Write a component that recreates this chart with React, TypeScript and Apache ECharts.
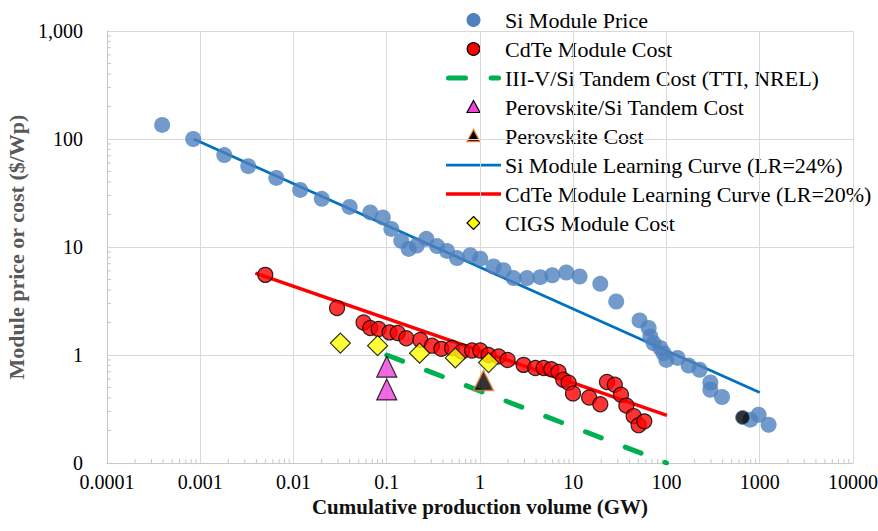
import React, { useEffect, useRef } from 'react';
import * as echarts from 'echarts';

// Axis tick labels (indexed by decade)
const xTickLabels = ['0.0001', '0.001', '0.01', '0.1', '1', '10', '100', '1000', '10000'];
const yTickLabels = ['0', '1', '10', '100', '1,000'];
const minorSteps = [2, 3, 4, 5, 6, 7, 8, 9];
const xDecades = [0.0001, 0.001, 0.01, 0.1, 1, 10, 100, 1000];
const yDecades = [0.1, 1, 10, 100];

// Series data: [cumulative production (GW), $/Wp]
const siModulePrice = [
  [0.00039, 135], [0.00084, 100], [0.00181, 71], [0.00327, 56], [0.00654, 43.6],
  [0.0118, 33.8], [0.0201, 27.9], [0.04, 23.5], [0.0666, 20.9], [0.0907, 18.8],
  [0.112, 14.7], [0.143, 11.4], [0.172, 9.6], [0.21, 10.3], [0.266, 11.9], [0.346, 10.2],
  [0.443, 9.2], [0.567, 7.9], [0.787, 8.4], [1.007, 7.8], [1.4, 6.6], [1.79, 6.1],
  [2.29, 5.15], [3.19, 5.15], [4.43, 5.26], [5.96, 5.47], [8.42, 5.8], [11.7, 5.33],
  [19.5, 4.56], [28.9, 3.13], [51.4, 2.09], [64.3, 1.78], [67, 1.48], [72.7, 1.29],
  [85.8, 1.16], [93.1, 1.04], [99.5, 0.9], [131.5, 0.94], [172.6, 0.8], [226.5, 0.73],
  [295, 0.557], [295, 0.477], [394, 0.408], [792, 0.252], [972, 0.28], [1244, 0.226],
];
const siHighlight = [[655, 0.264]];
const cdteModuleCost = [
  [0.00498, 5.52], [0.0293, 2.72], [0.0564, 2.0], [0.0666, 1.78], [0.0818, 1.74],
  [0.107, 1.62], [0.131, 1.6], [0.162, 1.43], [0.229, 1.38], [0.306, 1.22],
  [0.385, 1.14], [0.501, 1.16], [0.641, 1.08], [0.821, 1.1], [1.007, 1.1],
  [1.236, 1.0], [1.583, 0.97], [1.977, 0.9], [2.935, 0.81], [3.92, 0.757],
  [4.81, 0.757], [5.82, 0.738], [6.96, 0.696], [7.82, 0.59], [8.92, 0.553],
  [9.94, 0.441], [14.8, 0.404], [19.5, 0.35], [23.0, 0.563], [27.9, 0.53],
  [32.5, 0.4285], [37.1, 0.34], [44.4, 0.272], [50.2, 0.224], [57.8, 0.243],
];
const tandemIIIVSi = [[0.1, 1.0], [100, 0.1]];
const perovskiteSiTandem = [[0.1, 0.78], [0.1, 0.48]];
const perovskiteCost = [[1.09, 0.58]];
const siLearningCurve = [[0.00085, 100], [1000, 0.45]];
const cdteLearningCurve = [[0.0039, 5.73], [101, 0.276]];
const cigsModuleCost = [[0.0318, 1.29], [0.0798, 1.22], [0.225, 1.04], [0.5435, 0.94], [1.236, 0.85]];

const names = [
  'Si Module Price',
  'CdTe Module Cost',
  'III-V/Si Tandem Cost (TTI, NREL)',
  'Perovskite/Si Tandem Cost',
  'Perovskite Cost',
  'Si Module Learning Curve (LR=24%)',
  'CdTe Module Learning Curve (LR=20%)',
  'CIGS Module Cost',
];

const FONT = 'Liberation Serif';
const SI_BLUE = '#4F81BD';
const GREEN = '#00B050';
const MAGENTA = '#EE44DD';
const ORANGE = '#ED7D31';
const DASH = [17, 25.6];

function legendGraphics() {
  const left = 446;
  const iconW = 55;
  const cx = left + iconW / 2;
  const els: any[] = [];
  names.forEach((name, i) => {
    const cy = 20 + i * 29;
    let icon: any;
    switch (i) {
      case 0:
        icon = { type: 'circle', shape: { cx, cy, r: 7 }, style: { fill: SI_BLUE } };
        break;
      case 1:
        icon = { type: 'circle', shape: { cx, cy, r: 6.3 }, style: { fill: '#FF0000', stroke: '#000', lineWidth: 1.2 } };
        break;
      case 2:
        icon = {
          type: 'line',
          shape: { x1: left + 2.5, y1: cy, x2: left + iconW - 2.5, y2: cy },
          style: { stroke: GREEN, lineWidth: 5, lineDash: DASH, lineCap: 'round' },
        };
        break;
      case 3:
        icon = {
          type: 'polygon',
          shape: { points: [[cx, cy - 6.5], [cx + 6.5, cy + 5.5], [cx - 6.5, cy + 5.5]] },
          style: { fill: MAGENTA, stroke: '#000', lineWidth: 1.2 },
        };
        break;
      case 4:
        icon = {
          type: 'polygon',
          shape: { points: [[cx, cy - 6.5], [cx + 6.5, cy + 5.5], [cx - 6.5, cy + 5.5]] },
          style: { fill: '#000', stroke: ORANGE, lineWidth: 1.3 },
        };
        break;
      case 5:
        icon = { type: 'line', shape: { x1: left, y1: cy, x2: left + iconW, y2: cy }, style: { stroke: '#0070C0', lineWidth: 2.75 } };
        break;
      case 6:
        icon = { type: 'line', shape: { x1: left, y1: cy, x2: left + iconW, y2: cy }, style: { stroke: '#FF0000', lineWidth: 3.5 } };
        break;
      default:
        icon = {
          type: 'polygon',
          shape: { points: [[cx, cy - 6.5], [cx + 6.5, cy], [cx, cy + 6.5], [cx - 6.5, cy]] },
          style: { fill: '#FFFF00', stroke: '#000', lineWidth: 1.2 },
        };
    }
    els.push(icon);
    els.push({
      type: 'text',
      x: left + iconW + 4,
      y: cy,
      style: {
        text: name,
        fontFamily: FONT,
        fontSize: 22,
        fill: '#000',
        verticalAlign: 'middle',
        align: 'left',
      },
    });
  });
  return els;
}

export default function App() {
  const ref = useRef<HTMLDivElement>(null);
  useEffect(() => {
    if (!ref.current) return;
    const chart = echarts.init(ref.current, null, { renderer: 'svg' });

    const xMinor: number[][] = [];
    xDecades.forEach((d) => minorSteps.forEach((m) => xMinor.push([d * m, 0.1])));
    const yMinor: number[][] = [];
    yDecades.forEach((d) => minorSteps.forEach((m) => yMinor.push([0.0001, d * m])));

    const tickColor = '#C8C8C8';

    chart.setOption({
      animation: false,
      backgroundColor: '#fff',
      grid: { left: 107, right: 25, top: 31, bottom: 68, containLabel: false, outerBoundsMode: 'none' },
      graphic: legendGraphics(),
      xAxis: {
        type: 'log',
        logBase: 10,
        min: 0.0001,
        max: 10000,
        splitNumber: 8,
        name: 'Cumulative production volume (GW)',
        nameLocation: 'middle',
        nameGap: 28,
        nameTextStyle: { fontFamily: FONT, fontSize: 21, fontWeight: 'bold', color: '#111' },
        axisLine: { show: true, lineStyle: { color: tickColor, width: 1 } },
        axisTick: { show: false },
        minorTick: { show: false },
        splitLine: { show: true, lineStyle: { color: '#D9D9D9', width: 1 } },
        axisLabel: {
          margin: 9,
          fontFamily: FONT,
          fontSize: 20,
          color: '#000',
          formatter: (v: number) => xTickLabels[Math.round(Math.log10(v)) + 4] ?? '',
        },
      },
      yAxis: {
        type: 'log',
        logBase: 10,
        min: 0.1,
        max: 1000,
        splitNumber: 4,
        name: 'Module price or cost ($/Wp)',
        nameLocation: 'middle',
        nameGap: 73,
        nameTextStyle: { fontFamily: FONT, fontSize: 22, fontWeight: 'bold', color: '#595959' },
        axisLine: { show: true, lineStyle: { color: tickColor, width: 1 } },
        axisTick: { show: false },
        minorTick: { show: false },
        splitLine: { show: true, lineStyle: { color: '#D9D9D9', width: 1 } },
        axisLabel: {
          margin: 24,
          fontFamily: FONT,
          fontSize: 20,
          color: '#000',
          formatter: (v: number) => yTickLabels[Math.round(Math.log10(v)) + 1] ?? '',
        },
      },
      series: [
        {
          name: names[0],
          type: 'scatter',
          data: siModulePrice,
          symbol: 'circle',
          symbolSize: 16,
          itemStyle: { color: SI_BLUE },
          z: 3,
        },
        {
          name: names[1],
          type: 'scatter',
          data: cdteModuleCost,
          symbol: 'circle',
          symbolSize: 15,
          itemStyle: { color: '#FF0000', borderColor: '#000', borderWidth: 1.2 },
          z: 3,
        },
        {
          name: names[2],
          type: 'line',
          data: tandemIIIVSi,
          symbol: 'none',
          lineStyle: { color: GREEN, width: 5, type: DASH, cap: 'round' },
          z: 2,
        },
        {
          name: names[3],
          type: 'scatter',
          data: perovskiteSiTandem,
          symbol: 'triangle',
          symbolSize: [20, 21],
          itemStyle: { color: MAGENTA, borderColor: '#000', borderWidth: 1.2 },
          z: 4,
        },
        {
          name: names[4],
          type: 'scatter',
          data: perovskiteCost,
          symbol: 'triangle',
          symbolSize: [20, 20],
          itemStyle: { color: '#000', borderColor: ORANGE, borderWidth: 1.5 },
          z: 4,
        },
        {
          name: names[5],
          type: 'line',
          data: siLearningCurve,
          symbol: 'none',
          lineStyle: { color: '#0070C0', width: 2.75 },
          z: 2,
        },
        {
          name: names[6],
          type: 'line',
          data: cdteLearningCurve,
          symbol: 'none',
          lineStyle: { color: '#FF0000', width: 3.5 },
          z: 2,
        },
        {
          name: names[7],
          type: 'scatter',
          data: cigsModuleCost,
          symbol: 'diamond',
          symbolSize: 20,
          itemStyle: { color: '#FFFF00', borderColor: '#000', borderWidth: 1.2 },
          z: 5,
        },
        {
          name: 'Si highlight',
          type: 'scatter',
          data: siHighlight,
          symbol: 'circle',
          symbolSize: 14,
          itemStyle: { color: '#000', borderColor: SI_BLUE, borderWidth: 1 },
          z: 4,
        },
        {
          name: 'x minor ticks',
          type: 'custom',
          data: xMinor,
          clip: false,
          silent: true,
          z: 1,
          renderItem: (_p: any, api: any) => {
            const pt = api.coord([api.value(0), api.value(1)]);
            return {
              type: 'line',
              shape: { x1: pt[0], y1: pt[1], x2: pt[0], y2: pt[1] - 4 },
              style: { stroke: tickColor, lineWidth: 1 },
            };
          },
        },
        {
          name: 'y minor ticks',
          type: 'custom',
          data: yMinor,
          clip: false,
          silent: true,
          z: 1,
          renderItem: (_p: any, api: any) => {
            const pt = api.coord([api.value(0), api.value(1)]);
            return {
              type: 'line',
              shape: { x1: pt[0], y1: pt[1], x2: pt[0] + 4, y2: pt[1] },
              style: { stroke: tickColor, lineWidth: 1 },
            };
          },
        },
      ],
    });
    return () => chart.dispose();
  }, []);

  return (
    <div
      ref={ref}
      style={{ position: 'fixed', left: 0, top: 0, width: 878, height: 531, background: '#fff' }}
    />
  );
}
